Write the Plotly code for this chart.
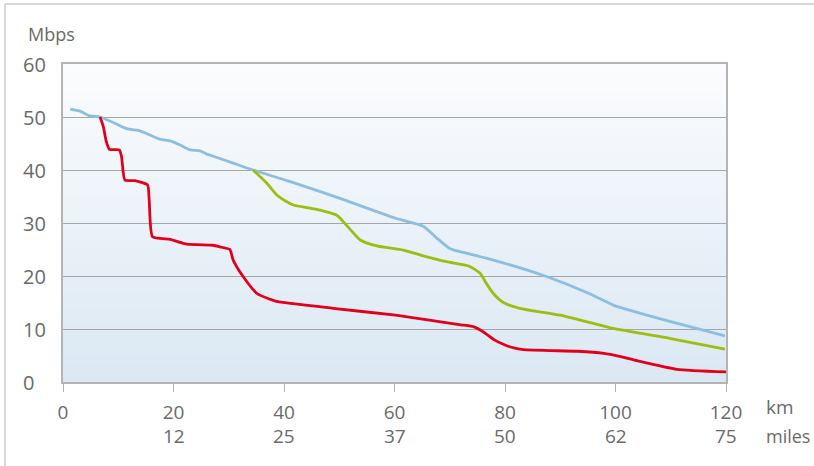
import plotly.graph_objects as go

# ---- data ----
blue_km = [1.3, 3.1, 4.9, 6.7, 9.0, 11.5, 13.9, 15.1, 17.6, 19.4, 21.0, 23.0, 24.8, 26.0, 27.2, 30.8,
           34.4, 39.3, 42.9, 50.0, 60.2, 65.2, 67.5, 70.0, 71.9, 77.9, 87.5, 95.0, 99.6, 102.0, 110.0, 119.8]
blue_val = [51.5, 51.1, 50.2, 50.0, 49.0, 47.8, 47.4, 46.9, 45.8, 45.5, 44.8, 43.8, 43.6, 43.0, 42.6, 41.3,
            40.0, 38.4, 37.2, 34.7, 30.9, 29.4, 27.3, 25.2, 24.6, 23.0, 19.9, 16.8, 14.5, 13.7, 11.4, 8.7]

green_km = [34.4, 36.9, 38.7, 40.2, 41.7, 44.7, 47.0, 49.5, 51.3, 53.8, 56.8, 61.6, 65.2, 69.4, 73.4,
            75.5, 76.5, 77.9, 79.7, 82.7, 90.0, 99.6, 110.0, 119.8]
green_val = [40.0, 37.5, 35.3, 34.2, 33.4, 32.8, 32.3, 31.5, 29.6, 26.8, 25.7, 24.9, 23.8, 22.7, 21.9,
             20.5, 18.8, 16.7, 15.0, 13.9, 12.6, 10.1, 8.2, 6.2]

red_km = [6.7, 7.3, 7.8, 8.4, 10.2, 10.6, 11.2, 13.0, 15.3, 15.6, 16.2, 19.4, 22.4, 27.2, 28.4, 30.2,
          30.8, 32.6, 35.1, 37.5, 38.6, 48.9, 60.2, 72.0, 74.4, 76.3, 78.0, 79.5, 81.0, 83.3, 93.2,
          97.9, 100.5, 104.0, 111.1, 120.0]
red_val = [50.0, 48.2, 45.5, 43.9, 43.8, 42.5, 38.1, 38.0, 37.2, 34.3, 27.4, 26.9, 26.0, 25.8, 25.5, 25.0,
           23.0, 19.9, 16.7, 15.6, 15.2, 13.9, 12.6, 10.8, 10.4, 9.3, 8.0, 7.2, 6.6, 6.1, 5.8,
           5.4, 4.9, 4.0, 2.4, 1.9]

km_ticks = [0, 20, 40, 60, 80, 100, 120]
mile_labels = ["", "12", "25", "37", "50", "62", "75"]
y_ticks = [0, 10, 20, 30, 40, 50, 60]

FONT = "Open Sans"
TXT = "#6a6a6a"

fig = go.Figure()

line_kw = dict(mode="lines", hoverinfo="skip", showlegend=False)
fig.add_trace(go.Scatter(x=blue_km, y=blue_val, line=dict(color="#8cbee2", width=2.8, shape="spline", smoothing=0.6), **line_kw))
fig.add_trace(go.Scatter(x=green_km, y=green_val, line=dict(color="#9cbe12", width=2.8, shape="spline", smoothing=0.6), **line_kw))
fig.add_trace(go.Scatter(x=red_km, y=red_val, line=dict(color="#e2001a", width=2.8, shape="spline", smoothing=0.5), **line_kw))

# background gradient bands inside the plot area
shapes = []
n = 60
top = (251, 252, 254)
bot = (219, 232, 243)
for i in range(n):
    t = i / (n - 1)
    c = tuple(round(bot[k] + (top[k] - bot[k]) * t) for k in range(3))
    shapes.append(dict(type="rect", xref="x domain", yref="y domain", x0=0, x1=1,
                       y0=i / n, y1=(i + 1) / n + 0.002, line=dict(width=0),
                       fillcolor="rgb(%d,%d,%d)" % c, layer="below"))
# outer light frame (top and left)
shapes.append(dict(type="line", xref="paper", yref="paper", x0=-0.0875, x1=1.14, y0=1.1887, y1=1.1887,
                   line=dict(color="#d9d9d9", width=2)))
shapes.append(dict(type="line", xref="paper", yref="paper", x0=-0.0875, x1=-0.0875, y0=1.1887, y1=-0.27,
                   line=dict(color="#d9d9d9", width=2)))

annotations = []
for v in y_ticks:
    annotations.append(dict(x=-0.0633, xref="paper", y=v, yref="y", text=str(v), showarrow=False,
                            xanchor="left", yanchor="middle", font=dict(family=FONT, size=20, color=TXT)))
for k, m in zip(km_ticks, mile_labels):
    if m:
        annotations.append(dict(x=k, xref="x", y=-0.1698, yref="paper", text=m, showarrow=False,
                                xanchor="center", yanchor="middle", font=dict(family=FONT, size=19, color=TXT)))
annotations.append(dict(x=1.0573, xref="paper", y=-0.0786, yref="paper", text="km", showarrow=False,
                        xanchor="left", yanchor="middle", font=dict(family=FONT, size=19, color=TXT)))
annotations.append(dict(x=1.0573, xref="paper", y=-0.1698, yref="paper", text="miles", showarrow=False,
                        xanchor="left", yanchor="middle", font=dict(family=FONT, size=18, color=TXT)))
annotations.append(dict(x=-0.0558, xref="paper", y=1.0943, yref="paper", text="Mbps", showarrow=False,
                        xanchor="left", yanchor="middle", font=dict(family=FONT, size=18, color=TXT)))

fig.update_layout(
    width=814, height=466,
    margin=dict(l=63, r=88, t=64, b=84),
    paper_bgcolor="white", plot_bgcolor="rgba(0,0,0,0)",
    shapes=shapes, annotations=annotations,
    xaxis=dict(range=[0, 120], tickvals=km_ticks, ticktext=[str(k) for k in km_ticks],
               showgrid=False, zeroline=False, showline=True, linecolor="#b4b4b4", linewidth=2,
               mirror=True, ticks="outside", ticklen=8, tickcolor="#b4b4b4", tickwidth=1,
               ticklabelstandoff=4,
               tickfont=dict(family=FONT, size=19, color=TXT)),
    yaxis=dict(range=[0, 60], tickvals=y_ticks, showticklabels=False, showgrid=True,
               gridcolor="#a6a6a6", gridwidth=1.3, zeroline=False, showline=True,
               linecolor="#b4b4b4", linewidth=2, mirror=True, ticks=""),
)

fig.write_html("out.html", config={"displayModeBar": False},
               post_script="document.body.style.margin='0';")
